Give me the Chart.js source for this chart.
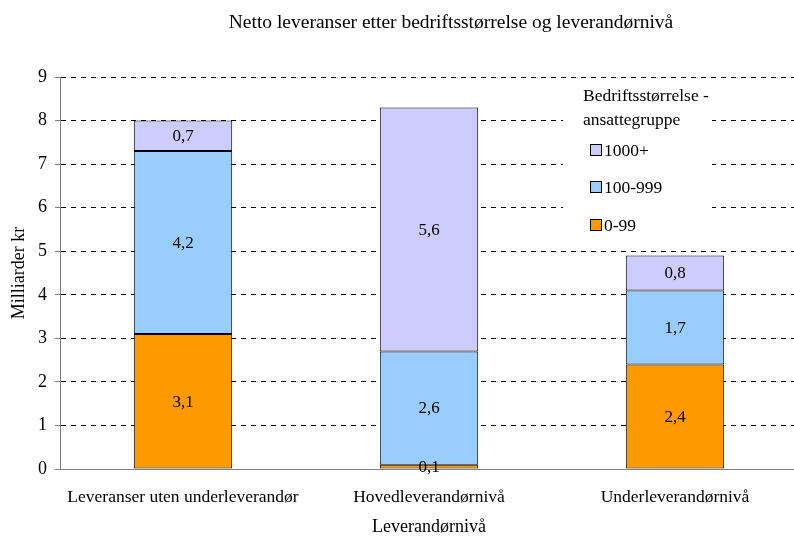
<!DOCTYPE html>
<html>
<head>
<meta charset="utf-8">
<script src="https://cdn.jsdelivr.net/npm/chart.js@4/dist/chart.umd.min.js"></script>
<style>
  html, body { margin: 0; padding: 0; background: #fff; }
  #wrap { width: 794px; height: 538px; overflow: hidden; }
</style>
</head>
<body>
<div id="wrap"><canvas id="chart" width="798" height="538"></canvas></div>
<script>
// data
const categories = ['Leveranser uten underleverandør', 'Hovedleverandørnivå', 'Underleverandørnivå'];
const seriesNames = ['0-99', '100-999', '1000+'];
const small = [3.1, 0.1, 2.4];
const medium = [4.2, 2.6, 1.7];
const large = [0.7, 5.6, 0.8];
const yTicks = [0, 1, 2, 3, 4, 5, 6, 7, 8, 9];

const colors = ['#FF9900', '#99CCFF', '#CCCCFF'];
const serif = "'Liberation Serif', 'Times New Roman', serif";

// tittel, verdier i søylene og forklaring
const extras = {
  id: 'extras',
  afterDatasetsDraw(chart) {
    const c = chart.ctx;
    c.save();
    c.fillStyle = '#000';
    c.font = '17px ' + serif;
    c.textAlign = 'center';
    c.textBaseline = 'middle';
    chart.data.datasets.forEach((ds, i) => {
      chart.getDatasetMeta(i).data.forEach((bar, j) => {
        const v = ds.data[j];
        c.fillText(v.toFixed(1).replace('.', ','), bar.x, (bar.y + bar.base) / 2 + 1);
      });
    });
    c.restore();
  },
  afterDraw(chart) {
    const c = chart.ctx;
    c.save();
    c.fillStyle = '#000';
    c.font = '19.5px ' + serif;
    c.textAlign = 'center';
    c.textBaseline = 'middle';
    c.fillText('Netto leveranser etter bedriftsstørrelse og leverandørnivå', 451, 23);

    // forklaring
    c.fillStyle = '#fff';
    c.fillRect(563, 82, 149, 158);
    c.fillStyle = '#000';
    c.font = '17.5px ' + serif;
    c.textAlign = 'left';
    c.fillText('Bedriftsstørrelse -', 583, 96);
    c.fillText('ansattegruppe', 583, 120);
    const order = [2, 1, 0];
    const ys = [150, 187, 225];
    order.forEach((s, k) => {
      c.fillStyle = colors[s];
      c.fillRect(590, ys[k] - 6, 12, 12);
      c.strokeStyle = '#000';
      c.lineWidth = 1;
      c.strokeRect(590.5, ys[k] - 5.5, 11, 11);
      c.fillStyle = '#000';
      c.fillText(seriesNames[s], 604, ys[k] + 1);
    });
    c.restore();
  }
};

const ctx = document.getElementById('chart');
new Chart(ctx, {
  type: 'bar',
  data: {
    labels: categories,
    datasets: [
      { label: seriesNames[0], data: small, backgroundColor: colors[0] },
      { label: seriesNames[1], data: medium, backgroundColor: colors[1] },
      { label: seriesNames[2], data: large, backgroundColor: colors[2] }
    ].map(d => Object.assign(d, {
      borderColor: '#000',
      borderWidth: 1,
      borderSkipped: false,
      barPercentage: 0.4,
      categoryPercentage: 1
    }))
  },
  options: {
    responsive: false,
    animation: false,
    layout: { padding: { top: 77, right: 0, left: 0, bottom: 0 } },
    plugins: {
      legend: { display: false },
      tooltip: { enabled: false },
      title: { display: false }
    },
    scales: {
      x: {
        stacked: true,
        grid: { display: false },
        border: { display: true, color: '#808080', width: 1 },
        ticks: { color: '#000', font: { family: serif, size: 17.5 }, padding: 10, maxRotation: 0 },
        title: { display: true, text: 'Leverandørnivå', color: '#000', font: { family: serif, size: 18 }, padding: { top: 13, bottom: 0 } },
        afterFit(s) { s.height = 69; }
      },
      y: {
        stacked: true,
        min: 0,
        max: 9,
        afterBuildTicks(s) { s.ticks = yTicks.map(v => ({ value: v })); },
        grid: {
          color: '#000',
          lineWidth: 1,
          tickLength: 5,
          tickColor: '#808080',
          tickBorderDash: []
        },
        border: { display: true, color: '#808080', width: 1, dash: [5, 5] },
        ticks: { color: '#000', font: { family: serif, size: 18 }, padding: 8 },
        title: { display: true, text: 'Milliarder kr', color: '#000', font: { family: serif, size: 18 }, padding: { top: 8, bottom: 0 } },
        afterFit(s) { s.width = 60; }
      }
    }
  },
  plugins: [extras]
});
</script>
</body>
</html>
